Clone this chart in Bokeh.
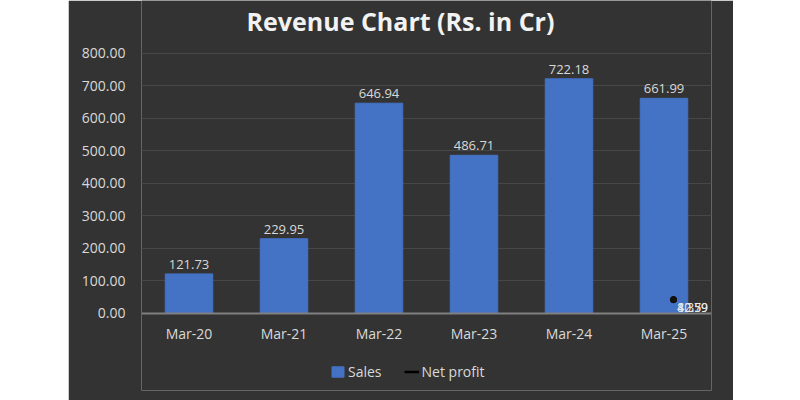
from bokeh.plotting import figure
from bokeh.models import (ColumnDataSource, Range1d, FactorRange, NumeralTickFormatter,
                          FixedTicker, Legend, LegendItem, LabelSet, Span, Label)
from bokeh.core.properties import value
from bokeh.embed import file_html
from bokeh.resources import INLINE
from bokeh.transform import dodge

title_text = "Revenue Chart (Rs. in Cr)"
categories = ["Mar-20", "Mar-21", "Mar-22", "Mar-23", "Mar-24", "Mar-25"]
sales = [121.73, 229.95, 646.94, 486.71, 722.18, 661.99]
y_ticks = [0, 100, 200, 300, 400, 500, 600, 700, 800]
np_cats = ["Mar-25", "Mar-25", "Mar-25"]
net_profit = [42.59, 42.59, 42.59]
np_labels = ["42.59", "10.59", "8.37"]

FONT = "Open Sans"
TXT = "#d9d9d9"
BG = "#333333"

src = ColumnDataSource(dict(cat=categories, sales=sales,
                            lab=["%.2f" % v for v in sales],
                            zero=[0] * len(categories)))
npsrc = ColumnDataSource(dict(cat=np_cats, val=net_profit, lab=np_labels,
                              zero=[0] * len(np_cats)))

p = figure(width=665, height=400, x_range=FactorRange(*categories, range_padding=0),
           y_range=Range1d(-237, 963), output_backend="svg", toolbar_location=None,
           min_border_left=73, min_border_right=22, min_border_top=0, min_border_bottom=10)
p.margin = (0, 0, 0, 68)
p.background_fill_color = BG
p.border_fill_color = BG
p.outline_line_color = None

# chart title, centred on the dark panel
p.add_layout(Label(x=2.726, y=900, text=title_text, text_align="center",
                   text_baseline="alphabetic", text_font=FONT, text_font_size="25px",
                   text_font_style="bold", text_color="#f2f2f2"))

p.xaxis.visible = False
p.xgrid.grid_line_color = None
p.yaxis.ticker = FixedTicker(ticks=y_ticks)
p.ygrid.ticker = FixedTicker(ticks=y_ticks)
p.ygrid.grid_line_color = "#474747"
p.ygrid.grid_line_width = 1
p.yaxis.formatter = NumeralTickFormatter(format="0.00")
p.yaxis.axis_line_color = None
p.yaxis.major_tick_line_color = None
p.yaxis.minor_tick_line_color = None
p.yaxis.major_label_standoff = 10
p.yaxis.major_label_text_font = FONT
p.yaxis.major_label_text_font_size = "14px"
p.yaxis.major_label_text_color = TXT

bars = p.vbar(x="cat", top="sales", width=0.5, source=src, color="#4472C4")
p.add_layout(Span(location=0, dimension="width", line_color="#808080", line_width=2))

p.add_layout(LabelSet(x="cat", y="sales", text="lab", source=src, text_align="center",
                      text_baseline="bottom", y_offset=5, text_font=value(FONT),
                      text_font_size=value("13px"), text_color=TXT))
# category (x axis) labels
p.add_layout(LabelSet(x="cat", y="zero", text="cat", source=src, text_align="center",
                      text_baseline="top", y_offset=-11, text_font=value(FONT),
                      text_font_size=value("14px"), text_color=TXT))

line = p.line(x=dodge("cat", 0.1, range=p.x_range), y="val", source=npsrc,
              color="#000000", line_width=2.5)
p.scatter(x=dodge("cat", 0.1, range=p.x_range), y="val", source=npsrc, size=6,
          color="#111111")
p.add_layout(LabelSet(x=dodge("cat", 0.14, range=p.x_range), y="zero", text="lab",
                      source=npsrc, text_align="left", text_baseline="bottom", y_offset=1,
                      text_font=value(FONT), text_font_size=value("12px"),
                      text_color="#e8e8e8"))

legend = Legend(items=[LegendItem(label="Sales", renderers=[bars]),
                       LegendItem(label="Net profit", renderers=[line])],
                orientation="horizontal", location=(189, 9),
                background_fill_alpha=0, border_line_color=None,
                label_text_font=FONT, label_text_font_size="14px", label_text_color=TXT,
                glyph_width=15, glyph_height=13, label_standoff=3, spacing=22,
                margin=0, padding=0)
p.add_layout(legend, "center")

open("out.html", "w").write(file_html(p, INLINE))
